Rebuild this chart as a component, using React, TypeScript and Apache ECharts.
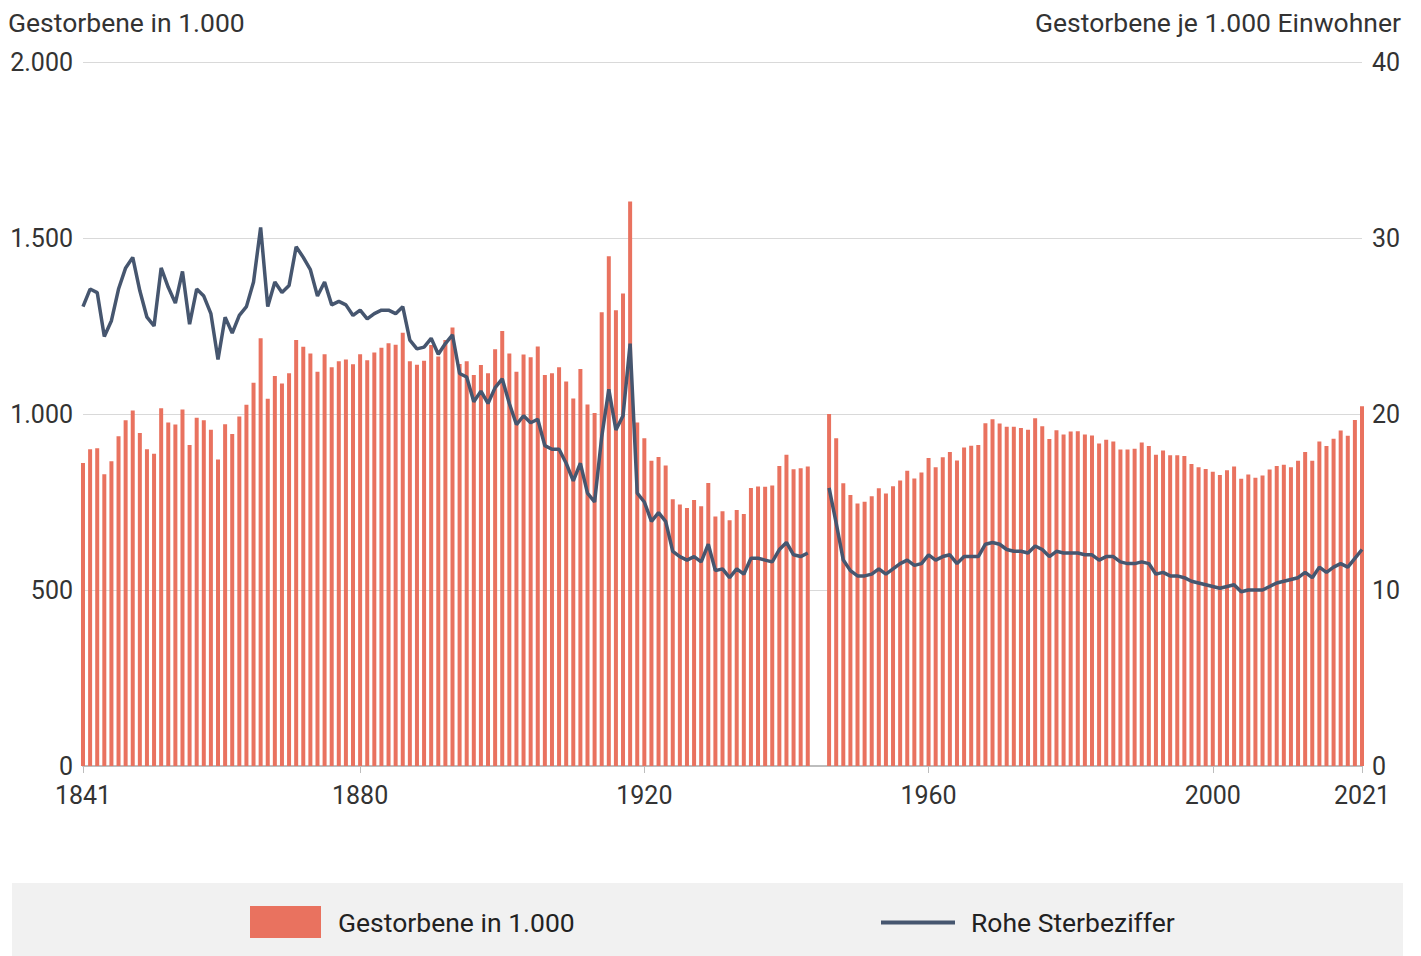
import React, { useEffect, useRef } from "react";
import * as echarts from "echarts";

const START_YEAR = 1841;
const END_YEAR = 2021;
const labeledYears = ["1841", "1880", "1920", "1960", "2000", "2021"];

// Gestorbene in 1.000 (1841..2021), null = no data (1944, 1945)
const deaths: (number | null)[] = [
  861, 900, 903, 829, 866, 937, 982, 1010, 946, 900,
  887, 1016, 976, 970, 1013, 912, 989, 982, 955, 871,
  971, 943, 993, 1026, 1089, 1215, 1043, 1108, 1087, 1116,
  1210, 1191, 1172, 1120, 1170, 1133, 1150, 1155, 1141, 1170,
  1153, 1175, 1188, 1201, 1197, 1231, 1150, 1140, 1151, 1196,
  1163, 1210, 1246, 1142, 1150, 1111, 1139, 1116, 1184, 1236,
  1172, 1120, 1169, 1161, 1192, 1111, 1116, 1133, 1092, 1044,
  1128, 1027, 1003, 1289, 1448, 1295, 1342, 1604, 976, 931,
  867, 878, 854, 758, 743, 733, 756, 738, 804, 709,
  724, 698, 727, 716, 790, 794, 793, 797, 852, 884,
  843, 846, 851, null, null, 1000, 931, 803, 770, 746,
  751, 766, 789, 774, 795, 811, 839, 817, 834, 875,
  849, 877, 892, 868, 905, 910, 912, 974, 985, 973,
  964, 964, 960, 955, 988, 965, 929, 954, 942, 950,
  951, 942, 939, 916, 927, 922, 899, 899, 901, 919,
  909, 884, 896, 883, 883, 881, 858, 849, 844, 836,
  827, 840, 851, 816, 828, 819, 825, 842, 852, 856,
  849, 867, 892, 867, 922, 909, 930, 953, 938, 983,
  1022,
];

// Rohe Sterbeziffer (Gestorbene je 1.000 Einwohner)
const rates: (number | null)[] = [
  26.1, 27.1, 26.9, 24.4, 25.3, 27.1, 28.3, 28.9, 27.0, 25.5,
  25.0, 28.3, 27.2, 26.3, 28.1, 25.1, 27.1, 26.7, 25.7, 23.1,
  25.5, 24.6, 25.6, 26.1, 27.5, 30.6, 26.1, 27.5, 26.9, 27.3,
  29.5, 28.9, 28.2, 26.7, 27.5, 26.2, 26.4, 26.2, 25.6, 25.9,
  25.4, 25.7, 25.9, 25.9, 25.7, 26.1, 24.2, 23.7, 23.8, 24.3,
  23.4, 24.0, 24.5, 22.3, 22.1, 20.7, 21.3, 20.6, 21.5, 22.0,
  20.6, 19.4, 19.9, 19.5, 19.7, 18.2, 18.0, 18.0, 17.2, 16.2,
  17.2, 15.5, 15.0, 18.7, 21.4, 19.1, 19.9, 24.0, 15.5, 15.0,
  13.9, 14.4, 13.9, 12.2, 11.9, 11.7, 11.9, 11.6, 12.6, 11.1,
  11.2, 10.7, 11.2, 10.9, 11.8, 11.8, 11.7, 11.6, 12.3, 12.7,
  12.0, 11.9, 12.1, null, null, 15.8, 13.8, 11.7, 11.1, 10.8,
  10.8, 10.9, 11.2, 10.9, 11.2, 11.5, 11.7, 11.4, 11.5, 12.0,
  11.7, 11.9, 12.0, 11.5, 11.9, 11.9, 11.9, 12.6, 12.7, 12.6,
  12.3, 12.2, 12.2, 12.1, 12.5, 12.3, 11.9, 12.2, 12.1, 12.1,
  12.1, 12.0, 12.0, 11.7, 11.9, 11.9, 11.6, 11.5, 11.5, 11.6,
  11.5, 10.9, 11.0, 10.8, 10.8, 10.7, 10.5, 10.4, 10.3, 10.2,
  10.1, 10.2, 10.3, 9.9, 10.0, 10.0, 10.0, 10.2, 10.4, 10.5,
  10.6, 10.7, 11.0, 10.7, 11.3, 11.0, 11.3, 11.5, 11.3, 11.8,
  12.3,
];

const years: string[] = [];
for (let y = START_YEAR; y <= END_YEAR; y++) years.push(String(y));

const BAR_COLOR = "#e9725f";
const LINE_COLOR = "#46566f";
const TEXT_COLOR = "#333333";
const FONT = "Roboto";

const fmtThousands = (v: number) =>
  v >= 1000 ? `${Math.floor(v / 1000)}.${String(v % 1000).padStart(3, "0")}` : String(v);

export default function App() {
  const ref = useRef<HTMLDivElement>(null);
  useEffect(() => {
    document.body.style.margin = "0";
    if (!ref.current) return;
    const chart = echarts.init(ref.current, undefined, { renderer: "svg" });
    const showYear = (_i: number, v: string) => labeledYears.includes(v);
    chart.setOption({
      animation: false,
      backgroundColor: "#ffffff",
      textStyle: { fontFamily: FONT },
      grid: { left: 83, right: 59, top: 62, bottom: 190, containLabel: false },
      xAxis: {
        type: "category",
        data: years,
        boundaryGap: false,
        axisLine: { lineStyle: { color: "#bdbdbd", width: 2 } },
        axisTick: { interval: showYear, length: 7, lineStyle: { color: "#bdbdbd", width: 1 } },
        axisLabel: { interval: showYear, fontSize: 25, color: TEXT_COLOR, margin: 17, fontFamily: FONT },
        splitLine: { show: false },
      },
      yAxis: [
        {
          type: "value",
          min: 0,
          max: 2000,
          interval: 500,
          axisLine: { show: false },
          axisTick: { show: false },
          axisLabel: { formatter: fmtThousands, fontSize: 25, color: TEXT_COLOR, margin: 10, fontFamily: FONT },
          splitLine: { lineStyle: { color: "#d9d9d9", width: 1 } },
        },
        {
          type: "value",
          position: "right",
          min: 0,
          max: 40,
          interval: 10,
          axisLine: { show: false },
          axisTick: { show: false },
          axisLabel: { fontSize: 25, color: TEXT_COLOR, margin: 10, fontFamily: FONT },
          splitLine: { show: false },
        },
      ],
      legend: [
        {
          data: ["Gestorbene in 1.000"],
          left: 245,
          top: 901,
          icon: "rect",
          itemWidth: 71,
          itemHeight: 32,
          z: 10,
          textStyle: { fontSize: 26.5, color: "#222222", fontFamily: FONT, padding: [0, 0, 0, 12] },
        },
        {
          data: ["Rohe Sterbeziffer"],
          left: 876,
          top: 904,
          icon: "rect",
          itemWidth: 74,
          itemHeight: 4,
          z: 10,
          textStyle: { fontSize: 26.5, color: "#222222", fontFamily: FONT, padding: [0, 0, 0, 11] },
        },
      ],
      graphic: [
        {
          type: "rect",
          z: 0,
          shape: { x: 12, y: 883, width: 1391, height: 73 },
          style: { fill: "#f1f1f1" },
        },
        {
          type: "text",
          z: 5,
          style: {
            x: 8, y: 22, text: "Gestorbene in 1.000",
            fontSize: 26.5, fontFamily: FONT, fill: TEXT_COLOR,
            align: "left", verticalAlign: "middle",
          },
        },
        {
          type: "text",
          z: 5,
          style: {
            x: 1401, y: 22, text: "Gestorbene je 1.000 Einwohner",
            fontSize: 26.5, fontFamily: FONT, fill: TEXT_COLOR,
            align: "right", verticalAlign: "middle",
          },
        },
      ],
      series: [
        {
          name: "Gestorbene in 1.000",
          type: "bar",
          data: deaths.map((v) => (v === null ? "-" : v)),
          barWidth: 4,
          itemStyle: { color: BAR_COLOR },
          yAxisIndex: 0,
          z: 2,
        },
        {
          name: "Rohe Sterbeziffer",
          type: "line",
          data: rates.map((v) => (v === null ? "-" : v)),
          yAxisIndex: 1,
          symbol: "none",
          connectNulls: false,
          color: LINE_COLOR,
          itemStyle: { color: LINE_COLOR },
          lineStyle: { color: LINE_COLOR, width: 3.5 },
          z: 3,
        },
      ],
    });
    return () => chart.dispose();
  }, []);
  return <div ref={ref} style={{ width: 1421, height: 956 }} />;
}
